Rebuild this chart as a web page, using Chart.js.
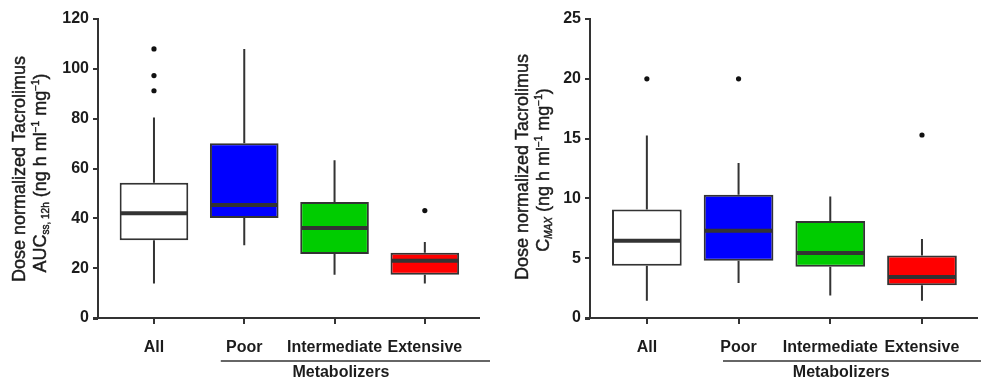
<!DOCTYPE html>
<html>
<head>
<meta charset="utf-8">
<script src="https://cdn.jsdelivr.net/npm/chart.js@4.4.1/dist/chart.umd.min.js"></script>
<style>
    body { margin: 0; background: #fff; }
    .wrap { position: absolute; top: 0; height: 382px; }
    #w1 { left: 0; width: 490px; }
    #w2 { left: 490px; width: 491px; }
</style>
</head>
<body>
<div class="wrap" id="w1"><canvas id="aucChart"></canvas></div>
<div class="wrap" id="w2"><canvas id="cmaxChart"></canvas></div>
<script>
const categories = ["All", "Poor", "Intermediate", "Extensive"];
const boxColors = ["#ffffff", "#0000ff", "#00cc00", "#ff0000"];

// AUC ss,12h (left panel)
const aucLow = [13.8, 29.2, 17.4, 13.8];
const aucQ1 = [31.2, 40.1, 25.7, 17.4];
const aucMedian = [42.0, 45.4, 36.1, 23.0];
const aucQ3 = [54.3, 70.1, 46.6, 26.2];
const aucHigh = [80.5, 108, 63.3, 30.5];
const aucOutliers = [[108, 97.3, 91.2], [], [], [43.1]];
const aucTicks = [0, 20, 40, 60, 80, 100, 120];

// Cmax (right panel)
const cmaxLow = [1.45, 2.92, 1.89, 1.45];
const cmaxQ1 = [4.37, 4.79, 4.29, 2.73];
const cmaxMedian = [6.46, 7.29, 5.43, 3.42];
const cmaxQ3 = [9.08, 10.3, 8.1, 5.23];
const cmaxHigh = [15.26, 12.95, 10.16, 6.6];
const cmaxOutliers = [[20], [20], [], [15.3]];
const cmaxTicks = [0, 5, 10, 15, 20, 25];

const FONT = '"Liberation Sans", Arial, sans-serif';
const INK = "#1c1c1c";
const LINE = "#333333";

// whiskers + median lines on top of the floating bars
const boxExtras = {
    id: "boxExtras",
    afterDatasetsDraw(chart, args, opts) {
        const y = chart.scales.y;
        const bars = chart.getDatasetMeta(0).data;
        const ctx = chart.ctx;
        ctx.save();
        ctx.strokeStyle = LINE;
        ctx.lineCap = "butt";
        bars.forEach((bar, i) => {
            ctx.lineWidth = 2;
            ctx.beginPath();
            ctx.moveTo(bar.x, y.getPixelForValue(opts.q3[i]));
            ctx.lineTo(bar.x, y.getPixelForValue(opts.high[i]));
            ctx.moveTo(bar.x, y.getPixelForValue(opts.q1[i]));
            ctx.lineTo(bar.x, y.getPixelForValue(opts.low[i]));
            ctx.stroke();
            const m = y.getPixelForValue(opts.median[i]);
            ctx.lineWidth = 4;
            ctx.beginPath();
            ctx.moveTo(bar.x - bar.width / 2 + 1, m);
            ctx.lineTo(bar.x + bar.width / 2 - 1, m);
            ctx.stroke();
        });
        ctx.restore();
    }
};

function drawRotated(ctx, segs, x, cy) {
    ctx.save();
    ctx.translate(x, cy);
    ctx.rotate(-Math.PI / 2);
    ctx.textBaseline = "alphabetic";
    ctx.textAlign = "left";
    ctx.strokeStyle = INK;
    ctx.lineWidth = 0.45;
    let total = 0;
    segs.forEach(s => {
        ctx.font = s.font;
        s.w = ctx.measureText(s.t).width;
        total += s.w;
    });
    let pos = -total / 2;
    segs.forEach(s => {
        ctx.font = s.font;
        ctx.fillText(s.t, pos, s.dy || 0);
        ctx.strokeText(s.t, pos, s.dy || 0);
        pos += s.w;
    });
    ctx.restore();
}

const annotations = {
    id: "annotations",
    afterDraw(chart, args, o) {
        const ctx = chart.ctx;
        const x = chart.scales.x;
        const area = chart.chartArea;
        ctx.save();
        ctx.fillStyle = INK;
        drawRotated(ctx, o.title1, o.titleX1, o.titleY1);
        drawRotated(ctx, o.title2, o.titleX2, o.titleY2);
        ctx.strokeStyle = LINE;
        // x axis runs a little past the y axis
        ctx.lineWidth = 2;
        ctx.beginPath();
        ctx.moveTo(area.left - 5, area.bottom + 1);
        ctx.lineTo(area.left, area.bottom + 1);
        ctx.stroke();
        ctx.lineWidth = 1.5;
        ctx.beginPath();
        ctx.moveTo(x.getPixelForValue(o.bracketFrom), o.bracketY);
        ctx.lineTo(chart.width, o.bracketY);
        ctx.stroke();
        ctx.font = "bold 16px " + FONT;
        ctx.textAlign = "center";
        ctx.textBaseline = "middle";
        ctx.fillText("Metabolizers", x.getPixelForValue(o.groupCenter), o.groupY);
        ctx.restore();
    }
};

const titleFont = "18px " + FONT;
const subFont = "10px " + FONT;
const line1 = [{ t: "Dose normalized Tacrolimus", font: titleFont }];
const unitSegs = [
    { t: " (ng h ml", font: titleFont },
    { t: "\u22121", font: subFont, dy: -7 },
    { t: " mg", font: titleFont },
    { t: "\u22121", font: subFont, dy: -7 },
    { t: ")", font: titleFont }
];

function makeChart(id, cfg) {
    const boxes = categories.map((c, i) => ({ x: i, y: [cfg.q1[i], cfg.q3[i]] }));
    const dots = categories.flatMap((c, i) => cfg.outliers[i].map(v => ({ x: i, y: v })));

    new Chart(document.getElementById(id), {
        type: "bar",
        data: {
            datasets: [{
                data: boxes,
                backgroundColor: boxColors,
                borderColor: LINE,
                borderWidth: 2,
                borderSkipped: false,
                categoryPercentage: 1,
                barPercentage: 0.76
            }, {
                type: "scatter",
                data: dots,
                pointRadius: 2.6,
                pointBackgroundColor: "#111",
                pointBorderWidth: 0
            }]
        },
        options: {
            responsive: true,
            maintainAspectRatio: false,
            animation: false,
            layout: { padding: { top: 19, right: cfg.padRight, left: 0, bottom: 0 } },
            plugins: {
                legend: { display: false },
                tooltip: { enabled: false },
                boxExtras: { low: cfg.low, q1: cfg.q1, median: cfg.median, q3: cfg.q3, high: cfg.high },
                annotations: cfg.notes
            },
            scales: {
                x: {
                    type: "linear",
                    offset: false,
                    min: -0.62,
                    max: 3.6,
                    afterFit: s => { s.height = 64; },
                    afterBuildTicks: s => { s.ticks = categories.map((c, i) => ({ value: i })); },
                    ticks: {
                        callback: v => categories[v],
                        font: { family: FONT, size: 16, weight: "bold" },
                        color: INK,
                        padding: 14,
                        maxRotation: 0,
                        autoSkip: false
                    },
                    grid: { display: true, offset: false, drawOnChartArea: false, drawTicks: true, tickLength: 6, color: LINE, lineWidth: 2 },
                    border: { display: true, color: LINE, width: 2 }
                },
                y: {
                    min: cfg.ticks[0],
                    max: cfg.ticks[cfg.ticks.length - 1],
                    afterFit: s => { s.width = cfg.yWidth; },
                    afterBuildTicks: s => { s.ticks = cfg.ticks.map(v => ({ value: v })); },
                    ticks: {
                        font: { family: FONT, size: 16, weight: "bold" },
                        color: INK,
                        padding: 4
                    },
                    grid: { display: true, drawOnChartArea: false, drawTicks: true, tickLength: 5, color: LINE, lineWidth: 2 },
                    border: { display: true, color: LINE, width: 2 }
                }
            }
        },
        plugins: [boxExtras, annotations]
    });
}

makeChart("aucChart", {
    low: aucLow, q1: aucQ1, median: aucMedian, q3: aucQ3, high: aucHigh,
    outliers: aucOutliers, ticks: aucTicks, yWidth: 98, padRight: 11,
    notes: {
        title1: line1,
        title2: [
            { t: "AUC", font: titleFont },
            { t: "ss, 12h", font: subFont, dy: 3 }
        ].concat(unitSegs),
        titleX1: 25, titleY1: 169,
        titleX2: 46, titleY2: 173,
        bracketFrom: 0.74, bracketY: 361,
        groupCenter: 2.07, groupY: 373
    }
});

makeChart("cmaxChart", {
    low: cmaxLow, q1: cmaxQ1, median: cmaxMedian, q3: cmaxQ3, high: cmaxHigh,
    outliers: cmaxOutliers, ticks: cmaxTicks, yWidth: 100, padRight: 1,
    notes: {
        title1: line1,
        title2: [
            { t: "C", font: titleFont },
            { t: "MAX", font: "italic " + subFont, dy: 3 }
        ].concat(unitSegs),
        titleX1: 38, titleY1: 167,
        titleX2: 59, titleY2: 170,
        bracketFrom: 0.83, bracketY: 361,
        groupCenter: 2.12, groupY: 373
    }
});
</script>
</body>
</html>
